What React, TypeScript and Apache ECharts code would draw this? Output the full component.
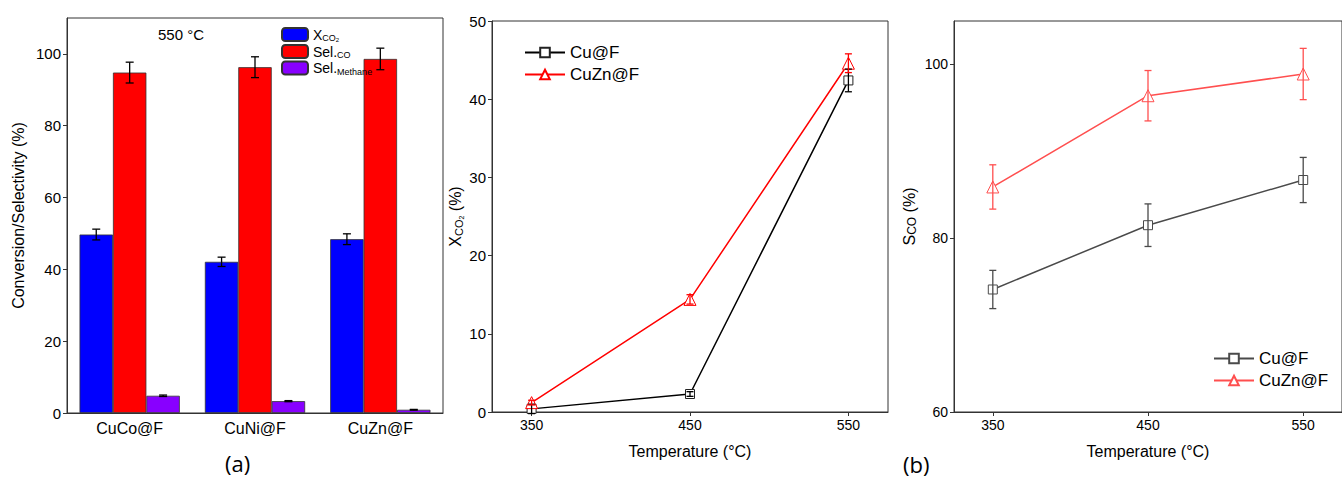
import React, { useEffect, useRef } from "react";
import * as echarts from "echarts";

// ---- Panel (a) data ----
const categories = ["CuCo@F", "CuNi@F", "CuZn@F"];
const xco2 = [49.7, 42.1, 48.4];
const xco2Err = [1.5, 1.3, 1.5];
const selCO = [94.8, 96.3, 98.6];
const selCOErr = [2.9, 2.9, 3.0];
const selCH4 = [4.8, 3.3, 0.9];
const selCH4Err = [0.2, 0.15, 0.1];
const aYTicks = [0, 20, 40, 60, 80, 100];

// ---- Panel (b) data ----
const temps = [350, 450, 550];
const cuX = [0.4, 2.3, 42.4];
const cuXErr = [0.6, 0.3, 1.45];
const cuznX = [1.2, 14.4, 44.6];
const cuznXErr = [0.3, 0.6, 1.2];

// ---- Panel (c) data ----
const cuS = [74.1, 81.5, 86.7];
const cuSErr = [2.2, 2.45, 2.6];
const cuznS = [85.9, 96.4, 98.9];
const cuznSErr = [2.55, 2.9, 2.95];
const cYTicks = [60, 80, 100];

const FONT = "Liberation Sans, Arial, sans-serif";

const BLUE = "#0000ff";
const RED = "#ff0000";
const PURPLE = "#8800ff";
const C_GREY = "#4a4a4a";
const C_RED = "#ff4f4f";

function errRenderer(color: string, capHalf: number, width: number, offsetFn?: (api: any) => number) {
  return (params: any, api: any) => {
    const xv = api.value(0);
    const y = api.value(1);
    const e = api.value(2);
    const off = offsetFn ? offsetFn(api) : 0;
    const c = api.coord([xv, y]);
    const x = c[0] + off;
    const yt = api.coord([xv, y + e])[1];
    const yb = api.coord([xv, y - e])[1];
    const style = { stroke: color, lineWidth: width };
    return {
      type: "group",
      children: [
        { type: "line", shape: { x1: x, y1: yt, x2: x, y2: yb }, style },
        { type: "line", shape: { x1: x - capHalf, y1: yt, x2: x + capHalf, y2: yt }, style },
        { type: "line", shape: { x1: x - capHalf, y1: yb, x2: x + capHalf, y2: yb }, style },
      ],
    };
  };
}

function barErr(vals: number[], errs: number[], idx: number) {
  return {
    type: "custom",
    xAxisIndex: 0,
    yAxisIndex: 0,
    z: 10,
    silent: true,
    data: vals.map((v, i) => [i, v, errs[i]]),
    renderItem: errRenderer("#000", 4, 1.3, (api: any) => {
      const band = api.size([1, 0])[0];
      const bw = (band * 0.8) / 3;
      return (idx - 1) * bw;
    }),
  };
}

function lineErr(axis: number, vals: number[], errs: number[], color: string) {
  return {
    type: "custom",
    xAxisIndex: axis,
    yAxisIndex: axis,
    z: 10,
    silent: true,
    data: temps.map((t, i) => [t, vals[i], errs[i]]),
    renderItem: errRenderer(color, 3.5, 1.3),
  };
}

const subRich = {
  n: { fontSize: 14, fontFamily: FONT, color: "#000" },
  s: { fontSize: 9, fontFamily: FONT, color: "#000", padding: [7, 0, 0, 0] },
  ss: { fontSize: 6, fontFamily: FONT, color: "#000", padding: [11, 0, 0, 0] },
};

export default function App() {
  const ref = useRef<HTMLDivElement>(null);
  useEffect(() => {
    if (!ref.current) return;
    const chart = echarts.init(ref.current, undefined, { renderer: "svg" });

    const legendLabels: Record<string, string> = {
      XCO2: "{n|X}{s|CO}{ss|2}",
      SelCO: "{n|Sel.}{s|CO}",
      SelMethane: "{n|Sel.}{s|Methane}",
    };

    const valueXAxis = (gridIndex: number) => ({
      type: "value",
      gridIndex,
      min: 325,
      max: 575,
      name: "Temperature (°C)",
      nameLocation: "middle",
      nameGap: 31,
      nameTextStyle: { fontSize: 16, fontFamily: FONT, color: "#000" },
      axisLine: { show: true, onZero: false, lineStyle: { color: "#333", width: 1 } },
      axisTick: { show: true, inside: false, length: 4, customValues: temps, lineStyle: { color: "#333" } },
      axisLabel: { customValues: temps, fontSize: 14, fontFamily: FONT, color: "#000", margin: 6 },
      splitLine: { show: false },
    });

    const option: any = {
      animation: false,
      backgroundColor: "#fff",
      grid: [
        { left: 67, top: 18, width: 376, height: 395, show: true, borderColor: "#333", borderWidth: 1, containLabel: false },
        { left: 492, top: 21, width: 396, height: 391, show: true, borderColor: "#333", borderWidth: 1, containLabel: false },
        { left: 954, top: 21, width: 396, height: 391, show: true, borderColor: "#333", borderWidth: 1, containLabel: false },
      ],
      xAxis: [
        {
          type: "category",
          gridIndex: 0,
          data: categories,
          axisLine: { lineStyle: { color: "#333" } },
          axisTick: { show: false },
          axisLabel: { fontSize: 16, fontFamily: FONT, color: "#000", margin: 7 },
        },
        valueXAxis(1),
        valueXAxis(2),
      ],
      yAxis: [
        {
          type: "value",
          gridIndex: 0,
          min: 0,
          max: 110,
          name: "Conversion/Selectivity (%)",
          nameLocation: "middle",
          nameGap: 41,
          nameTextStyle: { fontSize: 16, fontFamily: FONT, color: "#000" },
          axisLine: { show: true, lineStyle: { color: "#333" } },
          axisTick: { show: true, length: 4, customValues: aYTicks, lineStyle: { color: "#333" } },
          axisLabel: { customValues: aYTicks, fontSize: 15, fontFamily: FONT, color: "#000", margin: 6 },
          splitLine: { show: false },
        },
        {
          type: "value",
          gridIndex: 1,
          min: 0,
          max: 50,
          interval: 10,
          name: "{n|X}{s|CO}{ss|2}{n| (%)}",
          nameLocation: "middle",
          nameGap: 22,
          nameTextStyle: {
            fontSize: 16,
            fontFamily: FONT,
            color: "#000",
            rich: {
              n: { fontSize: 16, fontFamily: FONT, color: "#000" },
              s: { fontSize: 11, fontFamily: FONT, color: "#000", padding: [8, 0, 0, 0] },
              ss: { fontSize: 7, fontFamily: FONT, color: "#000", padding: [13, 0, 0, 0] },
            },
          },
          axisLine: { show: true, lineStyle: { color: "#333" } },
          axisTick: { show: true, length: 4, lineStyle: { color: "#333" } },
          axisLabel: { fontSize: 15, fontFamily: FONT, color: "#000", margin: 6 },
          splitLine: { show: false },
        },
        {
          type: "value",
          gridIndex: 2,
          min: 60,
          max: 105,
          name: "{n|S}{s|CO}{n| (%)}",
          nameLocation: "middle",
          nameGap: 36,
          nameTextStyle: {
            fontSize: 16,
            fontFamily: FONT,
            color: "#000",
            rich: {
              n: { fontSize: 16, fontFamily: FONT, color: "#000" },
              s: { fontSize: 12, fontFamily: FONT, color: "#000", padding: [6, 0, 0, 0] },
            },
          },
          axisLine: { show: true, lineStyle: { color: "#333" } },
          axisTick: { show: true, length: 4, customValues: cYTicks, lineStyle: { color: "#333" } },
          axisLabel: { customValues: cYTicks, fontSize: 14, fontFamily: FONT, color: "#000", margin: 6 },
          splitLine: { show: false },
        },
      ],
      legend: [
        {
          orient: "vertical",
          left: 276,
          top: 22,
          itemWidth: 26,
          itemHeight: 13,
          itemGap: 1,
          selectedMode: false,
          data: ["XCO2", "SelCO", "SelMethane"],
          formatter: (name: string) => legendLabels[name],
          textStyle: { rich: subRich },
        },
        {
          orient: "vertical",
          left: 519,
          top: 39,
          itemWidth: 40,
          itemHeight: 12,
          itemGap: 5,
          selectedMode: false,
          data: ["Cu@F", "CuZn@F"],
          textStyle: { fontSize: 17, fontFamily: FONT, color: "#000" },
        },
        {
          orient: "vertical",
          left: 1208,
          top: 345,
          itemWidth: 40,
          itemHeight: 12,
          itemGap: 5,
          selectedMode: false,
          data: ["Cu@F ", "CuZn@F "],
          formatter: (n: string) => n.trim(),
          textStyle: { fontSize: 17, fontFamily: FONT, color: "#000" },
        },
      ],
      graphic: [
        {
          type: "text",
          left: 158,
          top: 27,
          style: { text: "550 °C", fontSize: 15, fontFamily: FONT, fill: "#000" },
        },
        {
          type: "text",
          left: 225,
          top: 452,
          style: { text: "(a)", fontSize: 22, fontFamily: "Open Sans, sans-serif", fill: "#000" },
        },
        {
          type: "text",
          left: 903,
          top: 453,
          style: { text: "(b)", fontSize: 22, fontFamily: "Open Sans, sans-serif", fill: "#000" },
        },
      ],
      series: [
        {
          name: "XCO2",
          type: "bar",
          xAxisIndex: 0,
          yAxisIndex: 0,
          data: xco2,
          barGap: "0%",
          barCategoryGap: "20%",
          itemStyle: { color: BLUE, borderColor: "#333", borderWidth: 0.8 },
        },
        {
          name: "SelCO",
          type: "bar",
          xAxisIndex: 0,
          yAxisIndex: 0,
          data: selCO,
          barGap: "0%",
          barCategoryGap: "20%",
          itemStyle: { color: RED, borderColor: "#333", borderWidth: 0.8 },
        },
        {
          name: "SelMethane",
          type: "bar",
          xAxisIndex: 0,
          yAxisIndex: 0,
          data: selCH4,
          barGap: "0%",
          barCategoryGap: "20%",
          itemStyle: { color: PURPLE, borderColor: "#333", borderWidth: 0.8 },
        },
        barErr(xco2, xco2Err, 0),
        barErr(selCO, selCOErr, 1),
        barErr(selCH4, selCH4Err, 2),
        {
          name: "Cu@F",
          type: "line",
          xAxisIndex: 1,
          yAxisIndex: 1,
          data: temps.map((t, i) => [t, cuX[i]]),
          symbol: "rect",
          symbolSize: 9,
          lineStyle: { color: "#000", width: 1.5 },
          itemStyle: { color: "#fff", borderColor: "#222", borderWidth: 1 },
          z: 3,
        },
        {
          name: "CuZn@F",
          type: "line",
          xAxisIndex: 1,
          yAxisIndex: 1,
          data: temps.map((t, i) => [t, cuznX[i]]),
          symbol: "triangle",
          symbolSize: 12,
          lineStyle: { color: RED, width: 1.5 },
          itemStyle: { color: "#fff", borderColor: RED, borderWidth: 1 },
          z: 3,
        },
        lineErr(1, cuX, cuXErr, "#000"),
        lineErr(1, cuznX, cuznXErr, RED),
        {
          name: "Cu@F ",
          type: "line",
          xAxisIndex: 2,
          yAxisIndex: 2,
          data: temps.map((t, i) => [t, cuS[i]]),
          symbol: "rect",
          symbolSize: 9,
          lineStyle: { color: C_GREY, width: 1.5 },
          itemStyle: { color: "#fff", borderColor: C_GREY, borderWidth: 1 },
          z: 3,
        },
        {
          name: "CuZn@F ",
          type: "line",
          xAxisIndex: 2,
          yAxisIndex: 2,
          data: temps.map((t, i) => [t, cuznS[i]]),
          symbol: "triangle",
          symbolSize: 12,
          lineStyle: { color: C_RED, width: 1.5 },
          itemStyle: { color: "#fff", borderColor: C_RED, borderWidth: 1 },
          z: 3,
        },
        lineErr(2, cuS, cuSErr, C_GREY),
        lineErr(2, cuznS, cuznSErr, C_RED),
      ],
    };

    chart.setOption(option);
    return () => chart.dispose();
  }, []);

  return (
    <div
      ref={ref}
      style={{ position: "fixed", left: 0, top: 0, width: 1342, height: 482, background: "#fff" }}
    />
  );
}
